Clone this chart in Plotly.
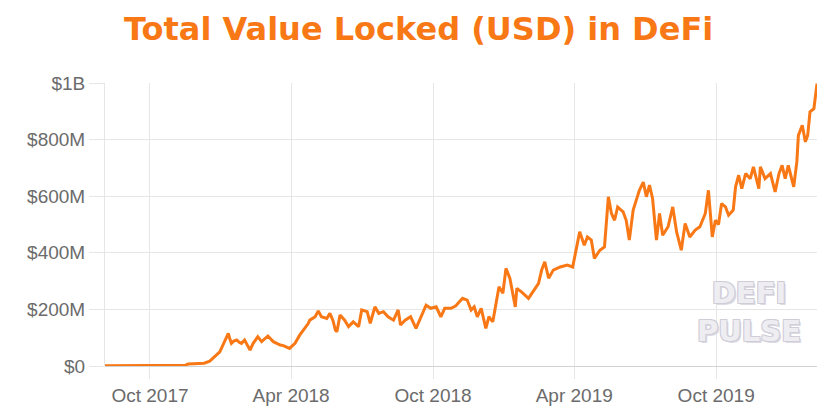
import plotly.graph_objects as go

dates = [
    "2017-08-04", "2017-08-23", "2017-10-01", "2017-10-27", "2017-11-16", "2017-11-19",
    "2017-12-04", "2017-12-10", "2017-12-17", "2017-12-22", "2017-12-26", "2017-12-30",
    "2018-01-03", "2018-01-07", "2018-01-10", "2018-01-12", "2018-01-14", "2018-01-17",
    "2018-01-21", "2018-01-24", "2018-01-27", "2018-01-31", "2018-02-03", "2018-02-07",
    "2018-02-11", "2018-02-17", "2018-02-22", "2018-02-26", "2018-03-02", "2018-03-09",
    "2018-03-13", "2018-03-18", "2018-03-22", "2018-03-26", "2018-03-30", "2018-04-02",
    "2018-04-06", "2018-04-12", "2018-04-19", "2018-04-23", "2018-04-25", "2018-05-02",
    "2018-05-06", "2018-05-10", "2018-05-17", "2018-05-21", "2018-05-25", "2018-05-28",
    "2018-05-30", "2018-06-03", "2018-06-09", "2018-06-14", "2018-06-20", "2018-06-27",
    "2018-07-01", "2018-07-08", "2018-07-12", "2018-07-18", "2018-07-23", "2018-07-29",
    "2018-08-04", "2018-08-11", "2018-08-17", "2018-08-20", "2018-08-26", "2018-09-02",
    "2018-09-09", "2018-09-15", "2018-09-22", "2018-09-28", "2018-10-05", "2018-10-11",
    "2018-10-16", "2018-10-24", "2018-10-30", "2018-11-08", "2018-11-14", "2018-11-19",
    "2018-11-23", "2018-11-27", "2018-12-02", "2018-12-08", "2018-12-12", "2018-12-17",
    "2018-12-21", "2018-12-25", "2018-12-30", "2019-01-03", "2019-01-08", "2019-01-15",
    "2019-01-17", "2019-01-23", "2019-02-01", "2019-02-07", "2019-02-14", "2019-02-18",
    "2019-02-22", "2019-02-27", "2019-03-05", "2019-03-14", "2019-03-23", "2019-03-30",
    "2019-04-03", "2019-04-08", "2019-04-14", "2019-04-18", "2019-04-23", "2019-04-27",
    "2019-05-04", "2019-05-10", "2019-05-15", "2019-05-19", "2019-05-23", "2019-05-27",
    "2019-06-03", "2019-06-07", "2019-06-11", "2019-06-16", "2019-06-20", "2019-06-24",
    "2019-06-29", "2019-07-03", "2019-07-07", "2019-07-11", "2019-07-16", "2019-07-20",
    "2019-07-24", "2019-07-31", "2019-08-06", "2019-08-11", "2019-08-17", "2019-08-22",
    "2019-08-28", "2019-09-04", "2019-09-10", "2019-09-17", "2019-09-21", "2019-09-26",
    "2019-09-30", "2019-10-04", "2019-10-08", "2019-10-13", "2019-10-17", "2019-10-23",
    "2019-10-26", "2019-10-30", "2019-11-03", "2019-11-08", "2019-11-14", "2019-11-18",
    "2019-11-25", "2019-11-27", "2019-12-03", "2019-12-10", "2019-12-16", "2019-12-21",
    "2019-12-25", "2019-12-29", "2020-01-02", "2020-01-09", "2020-01-13", "2020-01-15",
    "2020-01-20", "2020-01-24", "2020-01-27", "2020-01-30", "2020-02-04", "2020-02-08",
]

tvl_musd = [
    0.5, 0.8, 1.5, 2.5, 3, 7,
    8, 10, 17, 30, 39, 50,
    74, 95, 115, 95, 80, 88,
    92, 84, 80, 92, 75, 56,
    80, 103, 86, 95, 106, 86,
    80, 74, 72, 68, 62, 70,
    80, 109, 133, 150, 162, 174,
    195, 174, 168, 186, 160, 127,
    121, 180, 162, 139, 156, 139,
    198, 192, 151, 209, 186, 192,
    174, 162, 198, 145, 162, 174,
    133, 168, 215, 204, 209, 174,
    204, 204, 212, 239, 233, 198,
    209, 174, 204, 133, 174, 156,
    221, 280, 257, 345, 310, 209,
    274, 262, 239, 262, 292, 339,
    368, 310, 339, 350, 357, 350,
    410, 474, 427, 456, 445, 380,
    409, 421, 598, 539, 515, 562,
    545, 515, 445, 551, 586, 621,
    650, 598, 639, 592, 445, 539,
    462, 492, 562, 474, 409, 504,
    456, 480, 492, 539, 621, 456,
    515, 500, 574, 562, 533, 551,
    633, 674, 627, 680, 662, 704,
    627, 704, 662, 680, 615, 680,
    709, 662, 709, 633, 721, 815,
    851, 792, 815, 898, 909, 998,
]

tick_dates = ["2017-10-01", "2018-04-01", "2018-10-01", "2019-04-01", "2019-10-01"]
tick_text = ["Oct 2017", "Apr 2018", "Oct 2018", "Apr 2019", "Oct 2019"]
y_ticks = [0, 200e6, 400e6, 600e6, 800e6, 1000e6]
y_text = ["$0", "$200M", "$400M", "$600M", "$800M", "$1B"]

title_text = "Total Value Locked (USD) in DeFi"
watermark = "DEFI<br>PULSE"

ORANGE = "#F97816"
GRID = "#e6e6e6"
TICKFONT = dict(family="Liberation Sans, Arial, sans-serif", size=19, color="#6b6b6b")

values = [v * 1e6 for v in tvl_musd]

fig = go.Figure()
fig.add_trace(go.Scatter(
    x=dates, y=values, mode="lines",
    line=dict(color=ORANGE, width=3),
    hoverinfo="skip", showlegend=False,
))

shadow = ("1px 1px 0 #d0cdd8, -1px -1px 0 #d0cdd8, 1px -1px 0 #d0cdd8, "
          "-1px 1px 0 #d0cdd8, 2px 2px 0 #dddbe3")
fig.add_annotation(
    text=watermark, xref="paper", yref="paper", x=0.905, y=0.19,
    xanchor="center", yanchor="middle", showarrow=False, align="center",
    font=dict(family="DejaVu Sans, sans-serif", size=29, color="#eeedf2",
              weight=700, shadow=shadow),
)

fig.update_layout(
    width=824, height=415,
    margin=dict(l=105, r=7, t=83, b=49, autoexpand=False),
    paper_bgcolor="white", plot_bgcolor="white",
    title=dict(
        text=title_text, x=0.508, xanchor="center", y=0.93, yanchor="middle",
        yref="container",
        font=dict(family="DejaVu Sans, sans-serif", size=32, color=ORANGE, weight=700),
    ),
    xaxis=dict(
        type="date", range=["2017-08-04", "2020-02-08"], automargin=False,
        tickmode="array", tickvals=tick_dates, ticktext=tick_text,
        showgrid=True, gridcolor=GRID, gridwidth=1,
        ticks="outside", ticklen=12, tickcolor=GRID, tickwidth=1,
        tickfont=TICKFONT, showline=False, zeroline=False,
    ),
    yaxis=dict(
        range=[0, 1e9], tickmode="array", tickvals=y_ticks, ticktext=y_text,
        automargin=False,
        showgrid=True, gridcolor=GRID, gridwidth=1,
        ticks="outside", ticklen=15, tickcolor=GRID, tickwidth=1,
        tickfont=TICKFONT, showline=True, linecolor=GRID, linewidth=1,
        zeroline=True, zerolinecolor="#d2d2d2", zerolinewidth=1,
    ),
)

fig.write_html(
    "out.html",
    config={"displayModeBar": False},
    post_script="document.body.style.margin='0';document.body.style.overflow='hidden';",
)
